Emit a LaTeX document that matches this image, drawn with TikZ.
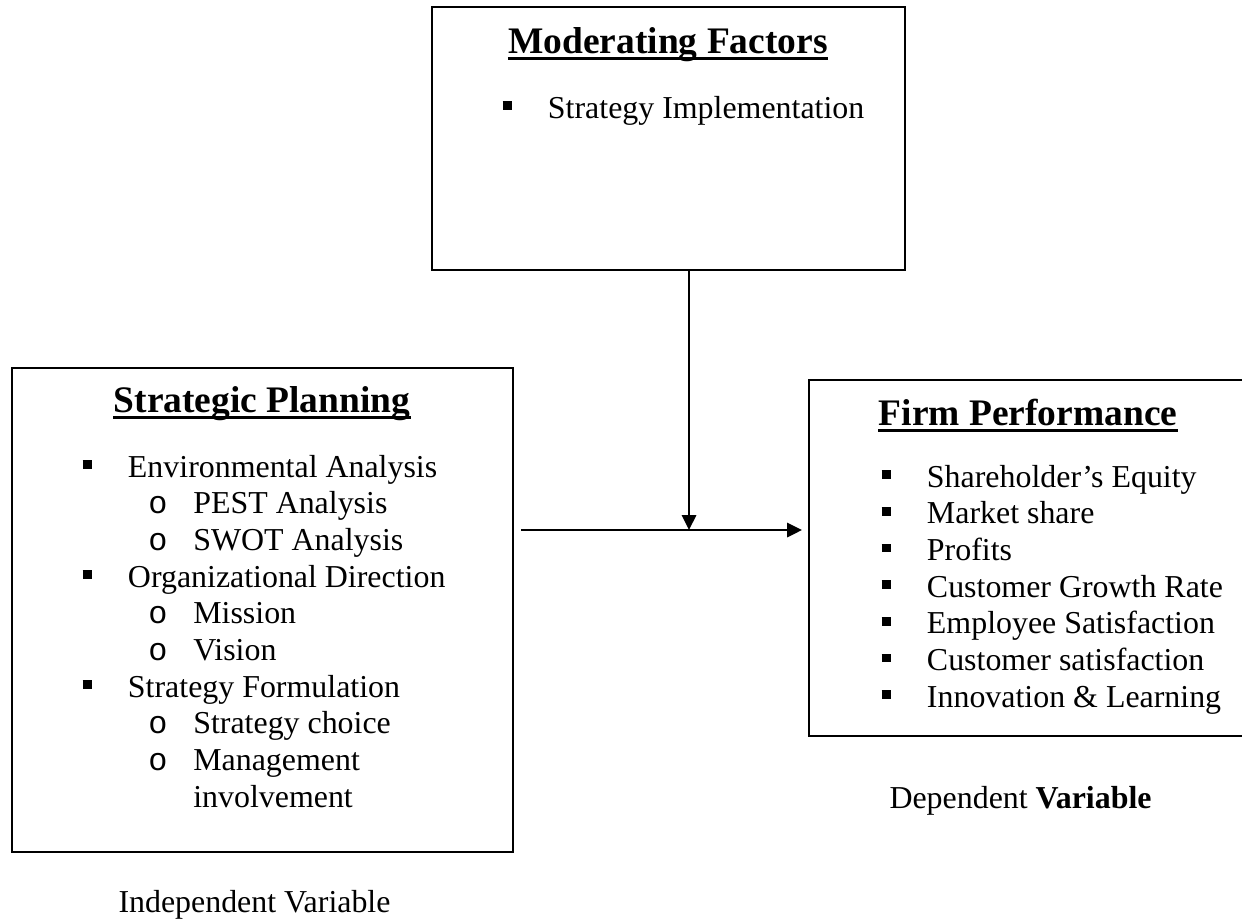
\documentclass[tikz,border=0pt]{standalone}
\usepackage{fontspec}
\setmainfont{Liberation Serif}
\newfontfamily\monofont{Liberation Mono}
\usetikzlibrary{arrows.meta}

% bullets as they look in the word document
\newcommand{\sqbul}{\makebox[17.6pt][l]{\raisebox{3.1pt}{\rule{3.6pt}{3.4pt}}}}
\newcommand{\cirbul}{\hspace{25.5pt}\makebox[17.4pt][l]{{\monofont o}}}
\newcommand{\subgap}{\hspace{42.9pt}}

\tikzset{
    frame/.style={draw, line width=0.7pt},
    flow/.style={line width=0.7pt, -{Triangle[length=5.8pt,width=5.6pt]}},
    boxtitle/.style={inner sep=0pt, anchor=base, font=\fontsize{14.5}{16}\selectfont\bfseries},
    itemlist/.style={inner sep=0pt, anchor=base west, font=\fontsize{12.35}{14.2}\selectfont},
    uline/.style={line width=1.3pt}
}

\begin{document}
\begin{tikzpicture}[x=0.3871pt, y=-0.3871pt]

    \useasboundingbox (0,0) rectangle (1242,919);

    % Define the corners of the three boxes
    \coordinate (mfNW) at (432,7);
    \coordinate (mfSE) at (905,270);
    \coordinate (spNW) at (12,368);
    \coordinate (spSE) at (513,852);
    \coordinate (fpNW) at (809,380);
    \coordinate (fpSE) at (1246,736);

    % Define the ends of the two arrows
    \coordinate (mfS) at (689,270);
    \coordinate (jn) at (689,530);
    \coordinate (spE) at (521,530);
    \coordinate (fpW) at (802,530);

    % Draw the boxes
    \draw[frame] (mfNW) rectangle (mfSE);
    \draw[frame] (spNW) rectangle (spSE);
    \draw[frame] (fpNW) rectangle (fpSE);

    % Draw the arrows
    \draw[flow] (mfS) -- (jn);
    \draw[flow] (spE) -- (fpW);

    % Titles, underlined
    \node[boxtitle] (mftitle) at (668,53) {Moderating Factors};
    \node[boxtitle] (sptitle) at (262,412) {Strategic Planning};
    \node[boxtitle] (fptitle) at (1028,425) {Firm Performance};
    \draw[uline] ([yshift=-2.1pt]mftitle.base west) -- ([yshift=-2.1pt]mftitle.base east);
    \draw[uline] ([yshift=-2.1pt]sptitle.base west) -- ([yshift=-2.1pt]sptitle.base east);
    \draw[uline] ([yshift=-2.1pt]fptitle.base west) -- ([yshift=-2.1pt]fptitle.base east);

    % Lists inside the boxes
    \node[itemlist] (mflist) at (502,118) {\sqbul Strategy Implementation};
    \node[itemlist] (splist) at (82,477) {\begin{tabular}[t]{@{}l@{}}
        \sqbul Environmental Analysis\\
        \cirbul PEST Analysis\\
        \cirbul SWOT Analysis\\
        \sqbul Organizational Direction\\
        \cirbul Mission\\
        \cirbul Vision\\
        \sqbul Strategy Formulation\\
        \cirbul Strategy choice\\
        \cirbul Management\\
        \subgap involvement
    \end{tabular}};
    \node[itemlist] (fplist) at (881,487) {\begin{tabular}[t]{@{}l@{}}
        \sqbul Shareholder’s Equity\\
        \sqbul Market share\\
        \sqbul Profits\\
        \sqbul Customer Growth Rate\\
        \sqbul Employee Satisfaction\\
        \sqbul Customer satisfaction\\
        \sqbul Innovation \& Learning
    \end{tabular}};

    % Variable labels under the boxes
    \node[itemlist] (dvlabel) at (889,808) {Dependent \textbf{Variable}};
    \node[itemlist] (ivlabel) at (118,912) {Independent Variable};

\end{tikzpicture}
\end{document}
